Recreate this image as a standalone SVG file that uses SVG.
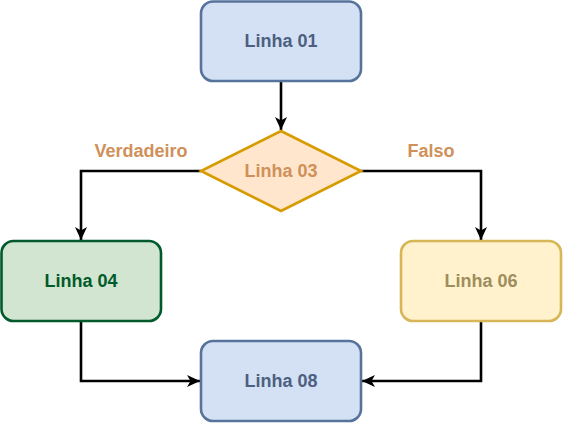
<svg xmlns="http://www.w3.org/2000/svg" width="563" height="423" viewBox="0 0 563 423">
<style>
text{font-family:"Liberation Sans",Arial,sans-serif;font-weight:bold;font-size:18px;text-anchor:middle;dominant-baseline:central}
.blue{fill:#d4e1f5;stroke:#56739c;stroke-width:2.6}
.c{fill:none;stroke:#000;stroke-width:2.6}
.lbl{fill:#d0905a}
</style>
<defs>
<marker id="a" viewBox="0 0 14 14" refX="13" refY="7" markerWidth="14" markerHeight="14" markerUnits="userSpaceOnUse" orient="auto">
<path d="M0,1 L13,7 L0,13 L3.5,7 Z" fill="#000"/>
</marker>
</defs>
<g id="connectors">
<path class="c" d="M281,81 V130" marker-end="url(#a)"/>
<path class="c" d="M201,171 H81 V240" marker-end="url(#a)"/>
<path class="c" d="M361,171 H481 V240" marker-end="url(#a)"/>
<path class="c" d="M81,321 V381 H200" marker-end="url(#a)"/>
<path class="c" d="M481,321 V381 H362" marker-end="url(#a)"/>
<text class="lbl" x="141" y="151">Verdadeiro</text>
<text class="lbl" x="431" y="151">Falso</text>
</g>
<g id="linha01">
<rect class="blue" x="201" y="1.5" width="160" height="79.5" rx="12"/>
<text x="281" y="41" fill="#4d5f80">Linha 01</text>
</g>
<g id="linha03">
<path d="M281,131 L361,171 L281,211 L201,171 Z" fill="#ffe6cc" stroke="#d79b00" stroke-width="2.6"/>
<text x="281" y="171" fill="#d0905a">Linha 03</text>
</g>
<g id="linha04">
<rect x="1.5" y="241" width="159.5" height="80" rx="12" fill="#d2e5d0" stroke="#005a2b" stroke-width="2.6"/>
<text x="81" y="281" fill="#005a2b">Linha 04</text>
</g>
<g id="linha06">
<rect x="401" y="241" width="160" height="80" rx="12" fill="#fff2cc" stroke="#d6b656" stroke-width="2.6"/>
<text x="481" y="281" fill="#9e8e5e">Linha 06</text>
</g>
<g id="linha08">
<rect class="blue" x="201" y="341" width="160" height="80" rx="12"/>
<text x="281" y="381" fill="#4d5f80">Linha 08</text>
</g>
</svg>
